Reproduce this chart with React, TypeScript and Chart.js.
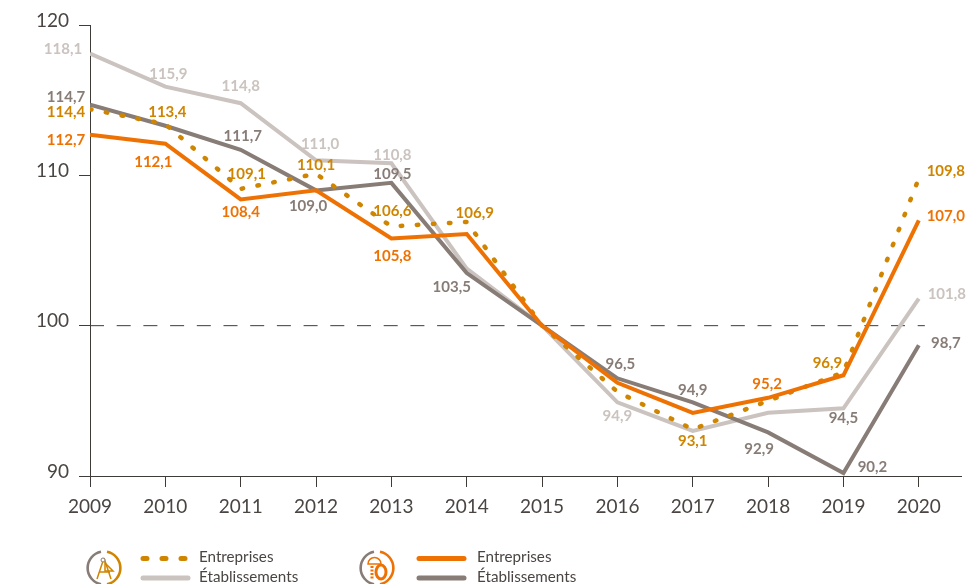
import React, { useEffect, useRef } from "react";
import { Chart, registerables } from "chart.js";

Chart.register(...registerables);

const years = [2009, 2010, 2011, 2012, 2013, 2014, 2015, 2016, 2017, 2018, 2019, 2020];
const yTicks = [90, 100, 110, 120];
const legendNames = ["Entreprises", "Établissements"];

const archiEtab = [118.1, 115.9, 114.8, 111.0, 110.8, 103.8, 100, 94.9, 93.0, 94.2, 94.5, 101.8];
const travauxEtab = [114.7, 113.3, 111.7, 109.0, 109.5, 103.5, 100, 96.5, 94.9, 92.9, 90.2, 98.7];
const archiEnt = [114.4, 113.4, 109.1, 110.1, 106.6, 106.9, 100, 95.6, 93.1, 95.0, 96.9, 109.8];
const travauxEnt = [112.7, 112.1, 108.4, 109.0, 105.8, 106.1, 100, 96.2, 94.2, 95.2, 96.7, 107.0];

const LIGHT = "#cbc3bf";
const DARK = "#877c76";
const GOLD = "#cf8500";
const ORANGE = "#ee7203";
const AXIS = "#3f3b39";
const TEXT = "#4a4543";
const FONT = "Lato, 'Open Sans', sans-serif";

// [dataset index, point index, dx, dy, colour override]
const labelPlacement: [number, number, number, number, string?][] = [
  [0, 0, -27, -4], [0, 1, 3, -12], [0, 2, 0, -17], [0, 3, 4, -16], [0, 4, 1, -8],
  [0, 7, 0, 14], [0, 10, 0, 10, DARK], [0, 11, 28, -4],
  [1, 0, -24, -8], [1, 2, 2, -14], [1, 3, -8, 16], [1, 4, 1, -9], [1, 5, -15, 14],
  [1, 7, 3, -14], [1, 8, 0, -12], [1, 9, -9, 17], [1, 10, 29, -6], [1, 11, 27, -2],
  [2, 0, -24, 3], [2, 1, 2, -12], [2, 2, 6, -15], [2, 3, 0, -9], [2, 4, 1, -15],
  [2, 5, 8, -9], [2, 8, 0, 12], [2, 10, -16, -9], [2, 11, 27, -7],
  [3, 0, -24, 5], [3, 1, -12, 18], [3, 2, 0, 13], [3, 4, 1, 18], [3, 9, -1, -14], [3, 11, 27, -4],
];

const valueLabels = {
  id: "valueLabels",
  afterDatasetsDraw(chart: any) {
    const { ctx, scales } = chart;
    ctx.save();
    ctx.font = `bold 15px ${FONT}`;
    ctx.textAlign = "center";
    ctx.textBaseline = "middle";
    for (const [ds, i, dx, dy, override] of labelPlacement) {
      const dataset = chart.data.datasets[ds];
      const pt = dataset.data[i];
      ctx.fillStyle = override || dataset.borderColor;
      ctx.fillText(
        pt.y.toFixed(1).replace(".", ","),
        scales.x.getPixelForValue(pt.x) + dx,
        scales.y.getPixelForValue(pt.y) + dy
      );
    }
    ctx.restore();
  },
};

const toPoints = (values: number[]) => values.map((y, i) => ({ x: years[i], y }));

function Ring({ cx, color }: { cx: number; color: string }) {
  const cy = 568;
  const r = 16.5;
  const h = 16.2;
  return (
    <g fill="none" strokeWidth={2.6}>
      <path d={`M ${cx - 3} ${cy - h} A ${r} ${r} 0 0 0 ${cx - 3} ${cy + h}`} stroke={DARK} />
      <path d={`M ${cx + 3} ${cy - h} A ${r} ${r} 0 0 1 ${cx + 3} ${cy + h}`} stroke={color} />
    </g>
  );
}

export default function App() {
  const ref = useRef<HTMLCanvasElement>(null);

  useEffect(() => {
    document.body.style.margin = "0";
    const chart = new Chart(ref.current!, {
      type: "line",
      plugins: [valueLabels],
      data: {
        datasets: [
          { label: "Établissements A", data: toPoints(archiEtab), borderColor: LIGHT, borderWidth: 4, pointRadius: 0, order: 4 },
          { label: "Établissements B", data: toPoints(travauxEtab), borderColor: DARK, borderWidth: 4, pointRadius: 0, order: 3 },
          { label: "Entreprises A", data: toPoints(archiEnt), borderColor: GOLD, borderWidth: 4.5, pointRadius: 0, borderDash: [1.5, 14.6], borderCapStyle: "round", order: 2 },
          { label: "Entreprises B", data: toPoints(travauxEnt), borderColor: ORANGE, borderWidth: 4, pointRadius: 0, order: 1 },
          { label: "Base 100", data: [{ x: 2009, y: 100 }, { x: 2020.08, y: 100 }], borderColor: AXIS, borderWidth: 1, pointRadius: 0, borderDash: [14, 12.7], order: 5 },
        ],
      } as any,
      options: {
        animation: false,
        responsive: false,
        layout: { padding: { top: 25, right: 19, left: 0, bottom: 0 } },
        plugins: { legend: { display: false }, tooltip: { enabled: false } },
        scales: {
          x: {
            type: "linear",
            min: 2009,
            max: 2020.56,
            afterFit: (s: any) => { s.height = 108; },
            border: { color: AXIS, width: 1 },
            grid: { drawOnChartArea: false, color: AXIS, tickLength: 11 },
            ticks: {
              stepSize: 1,
              includeBounds: false,
              maxRotation: 0,
              autoSkip: false,
              padding: 8,
              color: TEXT,
              font: { family: FONT, size: 19 },
              callback: (v: any) => String(v),
            },
          },
          y: {
            min: 90,
            max: 120,
            afterFit: (s: any) => { s.width = 90; },
            border: { color: AXIS, width: 1 },
            grid: { drawOnChartArea: false, color: AXIS, tickLength: 11 },
            afterBuildTicks: (s: any) => { s.ticks = yTicks.map((value) => ({ value })); },
            ticks: {
              padding: 10,
              color: TEXT,
              font: { family: FONT, size: 19, lineHeight: "9px" },
              callback: (v: any) => [String(v), ""],
            },
          },
        },
      } as any,
    });
    return () => chart.destroy();
  }, []);

  const legendText = (left: number, top: number, text: string) => (
    <span
      style={{
        position: "absolute",
        left,
        top,
        font: `15.2px/20px ${FONT}`,
        color: TEXT,
        whiteSpace: "nowrap",
      }}
    >
      {text}
    </span>
  );

  return (
    <div style={{ position: "relative", width: 980, height: 584, overflow: "hidden", background: "#fff" }}>
      <canvas ref={ref} width={980} height={584} style={{ display: "block" }} />
      <svg width={980} height={584} style={{ position: "absolute", left: 0, top: 0 }}>
        <Ring cx={104} color={GOLD} />
        <g fill="none" stroke={GOLD} strokeWidth={1.5}>
          <path d="M 104 558 L 97 579 M 104 558 L 111 579 M 99 572 L 110 572" />
          <path d="M 105 563 L 113 571 L 105 571 Z" />
        </g>
        <circle cx={103} cy={560} r={2} fill="#fff" stroke={DARK} strokeWidth={1} />
        <Ring cx={377} color={ORANGE} />
        <path d="M 368 564 A 6.5 6.5 0 0 1 381 564 L 368 564 Z" fill="none" stroke={ORANGE} strokeWidth={1.5} />
        <ellipse cx={381} cy={572} rx={5} ry={7} fill="none" stroke={ORANGE} strokeWidth={3} />
        <path d="M 372 566 L 372 580" fill="none" stroke={ORANGE} strokeWidth={3} strokeDasharray="2 1.5" />
        <g strokeLinecap="round" fill="none">
          <line x1={143} y1={558.5} x2={188} y2={558.5} stroke={GOLD} strokeWidth={5} strokeDasharray="4 15" />
          <line x1={143} y1={578} x2={188} y2={578} stroke={LIGHT} strokeWidth={5} />
          <line x1={419} y1={558.5} x2={464} y2={558.5} stroke={ORANGE} strokeWidth={5} />
          <line x1={419} y1={578} x2={464} y2={578} stroke={DARK} strokeWidth={5} />
        </g>
      </svg>
      {legendText(199, 546, legendNames[0])}
      {legendText(199, 566, legendNames[1])}
      {legendText(477, 546, legendNames[0])}
      {legendText(477, 566, legendNames[1])}
    </div>
  );
}
